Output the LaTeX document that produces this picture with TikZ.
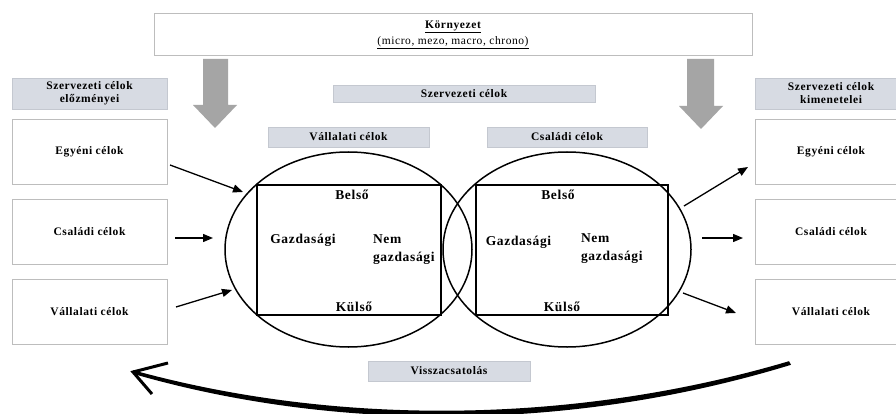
\documentclass[tikz,border=0pt]{standalone}
\usepackage{fontspec}
\setmainfont{Liberation Serif}[LetterSpace=5]
\usetikzlibrary{arrows.meta,shapes.geometric}
\definecolor{hdrfill}{HTML}{D7DBE3}
\definecolor{hdrline}{HTML}{C4C8D0}
\definecolor{boxline}{HTML}{BDBDBD}
\definecolor{bigarrow}{HTML}{A5A5A5}
\begin{document}
\begin{tikzpicture}[x=1pt,y=-1pt,
  every node/.style={inner sep=0pt, outer sep=0pt},
  txt/.style={font=\fontsize{11.5}{13}\selectfont\bfseries, align=center},
  hdr/.style={draw=hdrline, fill=hdrfill, line width=0.6pt, txt},
  goalbox/.style={draw=boxline, line width=0.8pt, txt, minimum width=155pt, minimum height=65pt},
  rgoalbox/.style={goalbox, minimum width=152pt},
  inner/.style={font=\fontsize{13.5}{17}\selectfont\bfseries},
  conn/.style={line width=1.3pt, -{Triangle[length=10pt,width=8pt]}},
  bigarr/.style={fill=bigarrow},
]
\clip (0,0) rectangle (896,414);
\fill[white] (0,0) rectangle (896,414);

% environment box
\node[draw=boxline, line width=1pt, minimum width=598pt, minimum height=42pt,
      align=center, font=\fontsize{11.5}{16}\selectfont] (env) at (453,34.5)
  {\textbf{\underline{Környezet}}\\\underline{(micro, mezo, macro, chrono)}};

% big gray arrows
\fill[bigarr] (203,59) -- (228,59) -- (228,105) -- (237,105) -- (215,128) -- (193,105) -- (203,105) -- cycle;
\fill[bigarr] (687,59) -- (714,59) -- (714,106) -- (723,106) -- (701,129) -- (679,106) -- (687,106) -- cycle;

% headers
\node[hdr, minimum width=155pt, minimum height=31pt] (lhdr) at (89.5,93.5) {Szervezeti célok\\előzményei};
\node[hdr, minimum width=152pt, minimum height=31pt] (rhdr) at (831,93.5) {Szervezeti célok\\kimenetelei};
\node[hdr, minimum width=262pt, minimum height=17pt] (szc) at (464,93.5) {Szervezeti célok};
\node[hdr, minimum width=161pt, minimum height=20pt] (vch) at (348.5,137) {Vállalati célok};
\node[hdr, minimum width=160pt, minimum height=20pt] (csh) at (567,137) {Családi célok};
\node[hdr, minimum width=162pt, minimum height=20pt] (vissza) at (449,371) {Visszacsatolás};

% left goal boxes
\node[goalbox] (l1) at (89.5,151.5) {Egyéni célok};
\node[goalbox] (l2) at (89.5,231.5) {Családi célok};
\node[goalbox] (l3) at (89.5,311.5) {Vállalati célok};
% right goal boxes
\node[rgoalbox] (r1) at (831,151.5) {Egyéni célok};
\node[rgoalbox] (r2) at (831,231.5) {Családi célok};
\node[rgoalbox] (r3) at (831,311.5) {Vállalati célok};

% ellipses and rectangles
\node[draw, ellipse, line width=1.5pt, minimum width=247pt, minimum height=195pt] (el1) at (348.5,249.5) {};
\node[draw, ellipse, line width=1.5pt, minimum width=248pt, minimum height=195pt] (el2) at (567,249.5) {};
\node[draw, line width=1.3pt, minimum width=184pt, minimum height=130pt] (rc1) at (349,250) {};
\node[draw, line width=1.3pt, minimum width=192pt, minimum height=130pt] (rc2) at (572,250) {};

% inner labels
\node[inner, anchor=base] (b1) at (352,200) {Belső};
\node[inner, anchor=base] (g1) at (303,243) {Gazdasági};
\node[inner, anchor=base west] (n1a) at (373,243) {Nem};
\node[inner, anchor=base west] (n1b) at (373,261) {gazdasági};
\node[inner, anchor=base] (k1) at (354,311.5) {Külső};
\node[inner, anchor=base] (b2) at (558,200) {Belső};
\node[inner, anchor=base] (g2) at (518.5,245) {Gazdasági};
\node[inner, anchor=base west] (n2a) at (581,242) {Nem};
\node[inner, anchor=base west] (n2b) at (581,260.5) {gazdasági};
\node[inner, anchor=base] (k2) at (562,311.5) {Külső};

% connector end points
\coordinate (a1s) at (170,165);  \coordinate (a1e) at (243,192);
\coordinate (a2s) at (175,238);  \coordinate (a2e) at (213,238);
\coordinate (a3s) at (176,307);  \coordinate (a3e) at (232,290);
\coordinate (b1s) at (684,206);  \coordinate (b1e) at (748,167);
\coordinate (b2s) at (702,238);  \coordinate (b2e) at (743,238);
\coordinate (b3s) at (683,293);  \coordinate (b3e) at (736,313);
\draw[conn] (a1s) -- (a1e);
\draw[conn] (a2s) -- (a2e);
\draw[conn] (a3s) -- (a3e);
\draw[conn] (b1s) -- (b1e);
\draw[conn] (b2s) -- (b2e);
\draw[conn] (b3s) -- (b3e);

% feedback arrow
\coordinate (fbs) at (790,363);
\coordinate (fbt) at (133,372);
\fill (791,364.8) .. controls (580,429.5) and (343,434.5) .. (133,373.8)
   -- (133,370.2) .. controls (343,428) and (580,423) .. (789,361.2) -- cycle;
\coordinate (fbu) at (168,363);
\coordinate (fbl) at (152,394);
\draw[line width=3pt, line join=miter] (fbu) -- (fbt) -- (fbl);
\end{tikzpicture}
\end{document}
